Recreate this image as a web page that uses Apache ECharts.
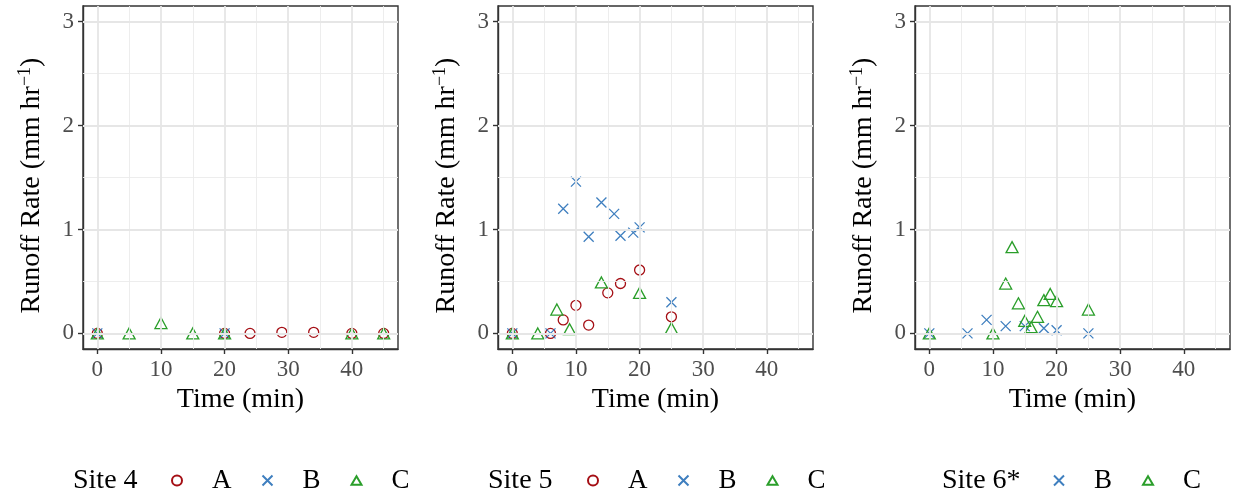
<!DOCTYPE html>
<html>
<head>
<meta charset="utf-8">
<script src="https://cdn.jsdelivr.net/npm/echarts@6/dist/echarts.min.js"></script>
<style>
  html, body { margin: 0; padding: 0; background: #fff; }
  #chart { width: 1233px; height: 499px; }
</style>
</head>
<body>
<div id="chart"></div>
<script>
// site 4
let s4TimeA = [0, 20, 24, 29, 34, 40, 45]
let s4RateA = [0, 0, 0, 0.01, 0.01, 0, 0]
let s4TimeB = [0, 20]
let s4RateB = [0, 0]
let s4TimeC = [0, 5, 10, 15, 20, 40, 45]
let s4RateC = [0, 0, 0.1, 0, 0, 0, 0]

// site 5
let s5TimeA = [0, 6, 8, 10, 12, 15, 17, 20, 25]
let s5RateA = [0, 0, 0.13, 0.27, 0.08, 0.39, 0.48, 0.61, 0.16]
let s5TimeB = [0, 6, 8, 10, 12, 14, 16, 17, 19, 20, 25]
let s5RateB = [0, 0, 1.2, 1.46, 0.93, 1.26, 1.15, 0.94, 0.97, 1.02, 0.3]
let s5TimeC = [0, 4, 7, 9, 14, 20, 25]
let s5RateC = [0, 0, 0.23, 0.04, 0.49, 0.39, 0.05]

// site 6* (no A)
let s6TimeB = [0, 6, 9, 12, 15, 18, 20, 25]
let s6RateB = [0, 0, 0.13, 0.07, 0.07, 0.05, 0.03, 0]
let s6TimeC = [0, 10, 12, 13, 14, 15, 16, 17, 18, 19, 20, 25]
let s6RateC = [0, 0, 0.48, 0.83, 0.29, 0.12, 0.06, 0.16, 0.32, 0.38, 0.31, 0.23]

let siteNames = ['Site 4', 'Site 5', 'Site 6*']
let xTicks = [0, 10, 20, 30, 40]
let yTicks = [0, 1, 2, 3]
let xMinor = [5, 15, 25, 35, 45]
let yMinor = [0.5, 1.5, 2.5]

let font = 'Liberation Serif'
let red = '#A50F15'
let blue = '#3F7FBF'
let green = '#2A9E2A'

let shapes = {
  A: { symbol: 'path://M10,5A5,5 0 1,1 0,5A5,5 0 1,1 10,5Z', size: 10, color: red },
  B: { symbol: 'path://M0,0L10,10M10,0L0,10', size: 10, color: blue },
  C: { symbol: 'path://M5,0L10,8.66L0,8.66Z', size: [12, 11], color: green }
}

let panels = [
  { A: [s4TimeA, s4RateA], B: [s4TimeB, s4RateB], C: [s4TimeC, s4RateC] },
  { A: [s5TimeA, s5RateA], B: [s5TimeB, s5RateB], C: [s5TimeC, s5RateC] },
  { B: [s6TimeB, s6RateB], C: [s6TimeC, s6RateC] }
]

let gridLefts = [83, 498, 915]
let legendLefts = [171, 587, 1053]
let titleLefts = [73, 488, 942]

function zip (xs, ys) {
  return xs.map((x, i) => [x, ys[i]])
}

let grid = [], xAxis = [], yAxis = [], series = [], legend = [], graphic = []

panels.forEach((panel, i) => {
  grid.push({
    left: gridLefts[i], top: 6, width: 315, height: 343,
    show: true, backgroundColor: '#fff', borderColor: '#333', borderWidth: 1.4
  })
  xAxis.push({
    type: 'value', gridIndex: i, min: -2.25, max: 47.25,
    name: 'Time (min)', nameLocation: 'middle', nameGap: 37,
    nameTextStyle: { fontFamily: font, fontSize: 28, color: '#000' },
    axisLine: { show: true, onZero: false, lineStyle: { color: '#333', width: 1.4 } },
    axisTick: { show: true, length: 5, customValues: xTicks, lineStyle: { color: '#333', width: 1.4 } },
    axisLabel: { customValues: xTicks, margin: 9, fontFamily: font, fontSize: 23, color: '#4d4d4d' },
    splitLine: { show: false }
  })
  yAxis.push({
    type: 'value', gridIndex: i, min: -0.15, max: 3.15,
    name: 'Runoff Rate (mm hr{sup|\u22121})', nameLocation: 'middle', nameGap: 35, nameRotate: 90,
    nameTextStyle: {
      fontFamily: font, fontSize: 28, color: '#000', padding: [0, 16, 0, 0],
      rich: { sup: { fontFamily: font, fontSize: 18, color: '#000', verticalAlign: 'top', padding: [0, 0, 14, 0] } }
    },
    axisLine: { show: true, onZero: false, lineStyle: { color: '#333', width: 1.4 } },
    axisTick: { show: true, length: 5, customValues: yTicks, lineStyle: { color: '#333', width: 1.4 } },
    axisLabel: { customValues: yTicks, margin: 9, fontFamily: font, fontSize: 23, color: '#4d4d4d' },
    splitLine: { show: false }
  })

  // background grid lines through the axis scale
  let lines = []
  xMinor.forEach(v => lines.push({ xAxis: v, lineStyle: { color: '#ebebeb', width: 0.9, type: 'solid' } }))
  yMinor.forEach(v => lines.push({ yAxis: v, lineStyle: { color: '#ebebeb', width: 0.9, type: 'solid' } }))
  xTicks.forEach(v => lines.push({ xAxis: v, lineStyle: { color: '#e6e6e6', width: 1.8, type: 'solid' } }))
  yTicks.forEach(v => lines.push({ yAxis: v, lineStyle: { color: '#e6e6e6', width: 1.8, type: 'solid' } }))
  series.push({
    name: 'grid' + i, type: 'line', xAxisIndex: i, yAxisIndex: i, data: [], z: 1, silent: true,
    markLine: { symbol: 'none', silent: true, label: { show: false }, data: lines }
  })

  let names = Object.keys(panel)
  names.forEach(key => {
    let shp = shapes[key]
    series.push({
      name: key, type: 'scatter', xAxisIndex: i, yAxisIndex: i, z: 3,
      symbol: shp.symbol, symbolSize: shp.size,
      itemStyle: { color: 'transparent', borderColor: shp.color, borderWidth: 1.3, opacity: 1 },
      data: zip(panel[key][0], panel[key][1])
    })
  })

  legend.push({
    data: names, left: legendLefts[i], top: 467, padding: 0,
    itemWidth: 10, itemHeight: 10, itemGap: 30, selectedMode: false,
    textStyle: { fontFamily: font, fontSize: 27, color: '#000', padding: [0, 0, 0, 25] }
  })
  graphic.push({
    type: 'text', left: titleLefts[i], top: 467,
    style: { text: siteNames[i], font: '28px "Liberation Serif"', fill: '#000' }
  })
})

let chart = echarts.init(document.getElementById('chart'))
chart.setOption({
  animation: false,
  backgroundColor: '#fff',
  grid, xAxis, yAxis, series, legend, graphic
})
</script>
</body>
</html>
